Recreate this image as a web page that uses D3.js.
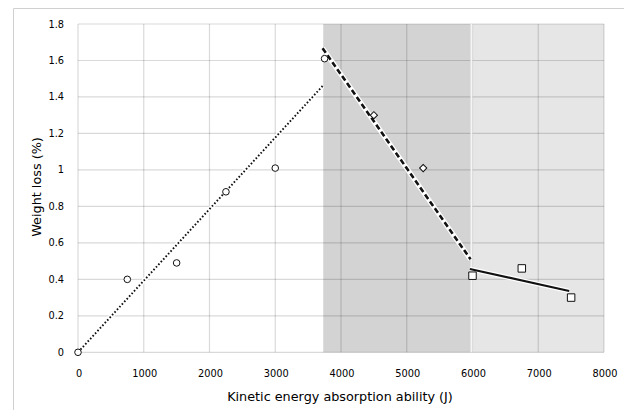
<!DOCTYPE html>
<html><head><meta charset="utf-8">
<script src="https://cdn.jsdelivr.net/npm/d3@7/dist/d3.min.js"></script>
<style>body{margin:0;background:#fff}svg{display:block}</style>
</head><body>
<svg id="c" width="624" height="410"></svg>
<script>
const xTicks = [0,1000,2000,3000,4000,5000,6000,7000,8000];
const yTicks = [0,0.2,0.4,0.6,0.8,1,1.2,1.4,1.6,1.8];
const yTickLabels = ["0","0.2","0.4","0.6","0.8","1","1.2","1.4","1.6","1.8"];
const circleX = [0,750,1500,2250,3000,3750];
const circleY = [0,0.40,0.49,0.88,1.01,1.61];
const diamondX = [4500,5250];
const diamondY = [1.30,1.01];
const squareX = [6000,6750,7500];
const squareY = [0.42,0.46,0.30];
const dottedTrend = [[0,0.0],[3720,1.46]];
const dashedTrend = [[3720,1.667],[5970,0.51]];
const solidTrend = [[5960,0.457],[7470,0.336]];
const zones = [[3730,6000],[6000,8000]];
const xTitle = "Kinetic energy absorption ability (J)";
const yTitle = "Weight loss (%)";

const svg = d3.select("#c");
const x = d3.scaleLinear().domain([0,8000]).range([78,604]);
const y = d3.scaleLinear().domain([0,1.8]).range([352.3,24]);
const font = "DejaVu Sans";

// outer frame
svg.append("path").attr("d","M13.5,420 V8.5 H640").attr("fill","none").attr("stroke","#d0d0d0").attr("stroke-width",1);

// zones
const zoneFill = ["#d3d3d3","#e6e6e6"];
svg.selectAll("rect.zone").data(zones).join("rect").attr("class","zone")
  .attr("x",d=>x(d[0])).attr("width",d=>x(d[1])-x(d[0]))
  .attr("y",y(1.8)).attr("height",y(0)-y(1.8))
  .attr("fill",(d,i)=>zoneFill[i]);

// grid
const g = svg.append("g");
g.selectAll("line.v").data(xTicks).join("line")
  .attr("x1",d=>x(d)).attr("x2",d=>x(d)).attr("y1",y(0)).attr("y2",y(1.8))
  .attr("stroke","rgba(0,0,0,0.15)").attr("stroke-width",1.2);
g.selectAll("line.h").data(yTicks).join("line")
  .attr("y1",d=>y(d)).attr("y2",d=>y(d)).attr("x1",x(0)).attr("x2",x(8000))
  .attr("stroke","rgba(0,0,0,0.15)").attr("stroke-width",1.2);
// white separator
svg.append("line").attr("x1",x(6000)-1).attr("x2",x(6000)-1).attr("y1",y(1.8)).attr("y2",y(0))
  .attr("stroke","#f4f4f4").attr("stroke-width",2);

// tick labels
svg.selectAll("text.xt").data(xTicks).join("text")
  .attr("x",d=>x(d)+1).attr("y",377).attr("text-anchor","middle")
  .attr("font-family",font).attr("font-size",9.8).attr("fill","#000").text(d=>d);
svg.selectAll("text.yt").data(yTicks).join("text")
  .attr("x",64).attr("y",d=>y(d)+3.5).attr("text-anchor","end")
  .attr("font-family",font).attr("font-size",9.8).attr("fill","#000").text((d,i)=>yTickLabels[i]);

// titles
svg.append("text").attr("x",340).attr("y",401).attr("text-anchor","middle")
  .attr("font-family",font).attr("font-size",12.8).attr("fill","#000").text(xTitle);
svg.append("text").attr("transform","translate(41,187) rotate(-90)").attr("text-anchor","middle")
  .attr("font-family",font).attr("font-size",12.8).attr("fill","#000").text(yTitle);

// trend lines
const line = d3.line().x(d=>x(d[0])).y(d=>y(d[1]));
function trend(data, dash, w){
  svg.append("path").attr("d",line(data)).attr("fill","none").attr("stroke","#fff").attr("stroke-width",w+2.5);
  svg.append("path").attr("d",line(data)).attr("fill","none").attr("stroke","#111").attr("stroke-width",w).attr("stroke-dasharray",dash);
}
trend(dottedTrend,"1.6,2",1.9);
trend(dashedTrend,"5.5,3",2.6);
trend(solidTrend,null,2.1);

// markers
svg.selectAll("circle.m").data(circleX).join("circle")
  .attr("cx",d=>x(d)).attr("cy",(d,i)=>y(circleY[i])).attr("r",3.3)
  .attr("fill","#fff").attr("stroke","#111").attr("stroke-width",1);
svg.selectAll("path.dm").data(diamondX).join("path")
  .attr("d",(d,i)=>d3.symbol(d3.symbolSquare,26)())
  .attr("transform",(d,i)=>`translate(${x(d)},${y(diamondY[i])}) rotate(45)`)
  .attr("fill","#fff").attr("stroke","#111").attr("stroke-width",1);
svg.selectAll("path.sq").data(squareX).join("path")
  .attr("d",d3.symbol(d3.symbolSquare,56)())
  .attr("transform",(d,i)=>`translate(${x(d)},${y(squareY[i])})`)
  .attr("fill","#fff").attr("stroke","#111").attr("stroke-width",1);
</script>
</body></html>
